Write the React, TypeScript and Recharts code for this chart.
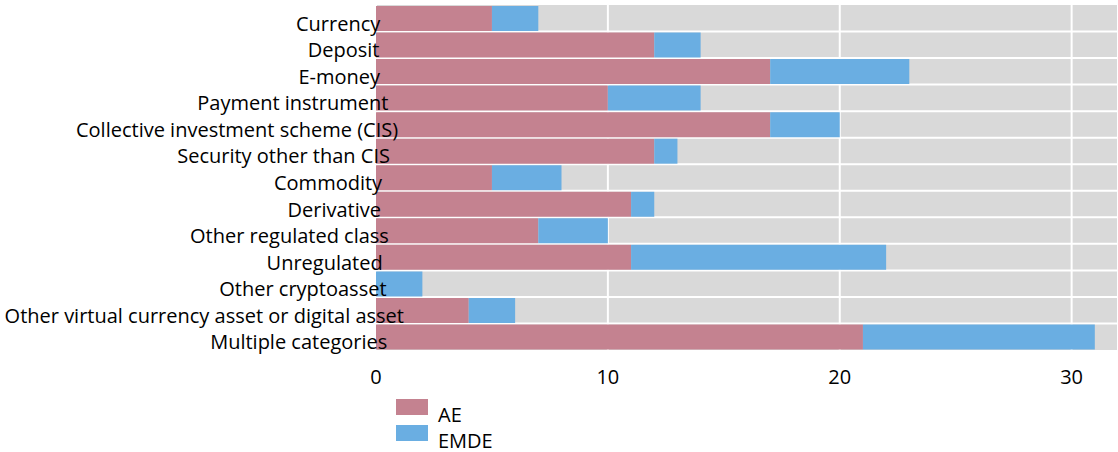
import React, { useLayoutEffect, useRef, useState } from "react";
import { BarChart, Bar, XAxis, YAxis, CartesianGrid, Legend } from "recharts";

const categories = [
  "Currency",
  "Deposit",
  "E-money",
  "Payment instrument",
  "Collective investment scheme (CIS)",
  "Security other than CIS",
  "Commodity",
  "Derivative",
  "Other regulated class",
  "Unregulated",
  "Other cryptoasset",
  "Other virtual currency asset or digital asset",
  "Multiple categories",
];
const aeValues = [5, 12, 17, 10, 17, 12, 5, 11, 7, 11, 0, 4, 21];
const emdeValues = [2, 2, 6, 4, 3, 1, 3, 1, 3, 11, 2, 2, 10];
const xTicks = [0, 10, 20, 30];

const AE_COLOR = "#c48290";
const EMDE_COLOR = "#6aaee2";
const FONT = "'Open Sans', sans-serif";
const FS = 20;

const data = categories.map((c, i) => ({ name: c, AE: aeValues[i], EMDE: emdeValues[i] }));

const YTick = (props: any) => {
  const { x, y, payload } = props;
  const ref = useRef<SVGTextElement>(null);
  const [shift, setShift] = useState(2);
  useLayoutEffect(() => {
    if (ref.current) {
      const w = ref.current.getComputedTextLength();
      setShift(Math.max(1, 0.075 * w - 2));
    }
  }, [payload.value]);
  return (
    <text ref={ref} x={x + 8 + shift} y={y} dy={12.5} textAnchor="end" fontFamily={FONT} fontSize={FS} fill="#000">
      {payload.value}
    </text>
  );
};

const XTick = (props: any) => {
  const { x, y, payload } = props;
  return (
    <text x={x} y={y} dy={26} textAnchor="middle" fontFamily={FONT} fontSize={FS} fill="#000">
      {payload.value}
    </text>
  );
};

const LegendContent = (props: any) => {
  const { payload } = props;
  return (
    <div style={{ fontFamily: FONT, fontSize: FS, color: "#000", lineHeight: "26px" }}>
      {payload.map((p: any) => (
        <div key={p.value} style={{ display: "flex", alignItems: "flex-start", height: 26 }}>
          <div style={{ width: 32, height: 16, background: p.color, marginRight: 10, marginTop: 3 }} />
          <span style={{ marginTop: 6 }}>{p.value}</span>
        </div>
      ))}
    </div>
  );
};

export default function App() {
  const n = categories.length;
  return (
    <div style={{ position: "absolute", left: 0, top: 0 }}>
      <BarChart
        width={1118}
        height={452}
        data={data}
        layout="vertical"
        margin={{ top: 5, right: 0, bottom: 72, left: 0 }}
        barCategoryGap={1}
      >
        <CartesianGrid
          fill="#d9d9d9"
          stroke="#ffffff"
          strokeWidth={2}
          horizontalCoordinatesGenerator={({ offset }: any) =>
            Array.from({ length: n - 1 }, (_, i) => offset.top + ((i + 1) * offset.height) / n)
          }
        />
        <XAxis
          type="number"
          domain={[0, 32]}
          ticks={xTicks}
          axisLine={false}
          tickLine={false}
          tick={<XTick />}
          interval={0}
          height={30}
        />
        <YAxis
          type="category"
          dataKey="name"
          width={376}
          axisLine={false}
          tickLine={false}
          tick={<YTick />}
          interval={0}
        />
        <Legend
          layout="vertical"
          verticalAlign="middle"
          align="center"
          wrapperStyle={{ left: 396, top: 396, width: 200 }}
          content={<LegendContent />}
        />
        <Bar dataKey="AE" stackId="a" fill={AE_COLOR} isAnimationActive={false} />
        <Bar dataKey="EMDE" stackId="a" fill={EMDE_COLOR} isAnimationActive={false} />
      </BarChart>
    </div>
  );
}
